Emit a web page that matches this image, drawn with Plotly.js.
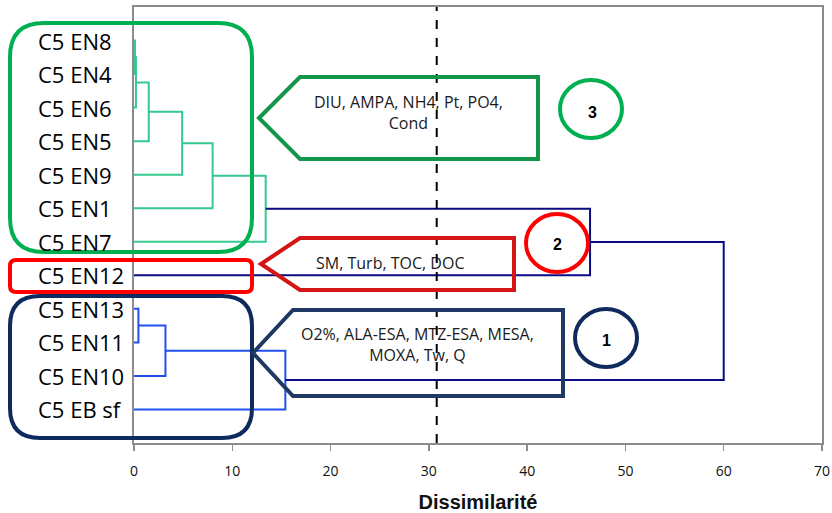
<!DOCTYPE html>
<html>
<head>
<meta charset="utf-8">
<script src="https://cdn.plot.ly/plotly-3.0.1.min.js"></script>
<style>html,body{margin:0;padding:0;background:#fff;}#chart{width:832px;height:513px;}</style>
</head>
<body>
<div id="chart"></div>
<script>
// ---- Data ----
const leaves = ['C5 EN8','C5 EN4','C5 EN6','C5 EN5','C5 EN9','C5 EN1','C5 EN7','C5 EN12','C5 EN13','C5 EN11','C5 EN10','C5 EB sf'];
const mergeLeft   = ['C5 EN8','n0','n1','n2','n3','n4','n5','C5 EN13','n7','n8','n6'];
const mergeRight  = ['C5 EN4','C5 EN6','C5 EN5','C5 EN9','C5 EN1','C5 EN7','C5 EN12','C5 EN11','C5 EN10','C5 EB sf','n9'];
const mergeHeight = [0.1, 0.2, 1.5, 4.9, 8.0, 13.4, 46.4, 0.45, 3.2, 15.4, 60.0];
const mergeGroup  = ['g3','g3','g3','g3','g3','g3','top','g1','g1','g1','top'];
const xTicks = [0,10,20,30,40,50,60,70];
const truncation = 30.8;
const groupText = ['DIU, AMPA, NH4, Pt, PO4,<br>Cond', 'SM, Turb, TOC, DOC', 'O2%, ALA-ESA, MTZ-ESA, MESA,<br>MOXA, Tw, Q'];
const groupNumbers = ['3','2','1'];

// ---- Styles ----
const groupColor = {g3:'#35c98f', g1:'#1f50ee', top:'#0a0a82'};

// ---- Build dendrogram ----
const pos = {};
leaves.forEach((l,i)=>{ pos[l] = {x:0, y:i+1}; });
const traces = [];
mergeHeight.forEach((h,k)=>{
  const a = pos[mergeLeft[k]], b = pos[mergeRight[k]];
  traces.push({
    type:'scatter', mode:'lines',
    x:[a.x, h, h, b.x], y:[a.y, a.y, b.y, b.y],
    line:{color:groupColor[mergeGroup[k]], width:2},
    hoverinfo:'skip', showlegend:false
  });
  pos['n'+k] = {x:h, y:(a.y+b.y)/2};
});

// ---- Decorations (pixel -> paper) ----
const L=134, R=822, T=7, B=443;
const px = v => (v-L)/(R-L);
const py = v => (B-v)/(B-T);
function pt(x,y){ return px(x)+','+py(y); }
function roundRect(x0,y0,x1,y1,r){
  return 'M'+pt(x0+r,y0)+' L'+pt(x1-r,y0)+' Q'+pt(x1,y0)+' '+pt(x1,y0+r)+
         ' L'+pt(x1,y1-r)+' Q'+pt(x1,y1)+' '+pt(x1-r,y1)+
         ' L'+pt(x0+r,y1)+' Q'+pt(x0,y1)+' '+pt(x0,y1-r)+
         ' L'+pt(x0,y0+r)+' Q'+pt(x0,y0)+' '+pt(x0+r,y0)+' Z';
}
function arrowBox(tipX,x0,x1,y0,y1){
  return 'M'+pt(tipX,(y0+y1)/2)+' L'+pt(x0,y0)+' L'+pt(x1,y0)+' L'+pt(x1,y1)+' L'+pt(x0,y1)+' Z';
}
function circ(cx,cy,rx,ry,color){
  return {type:'circle', xref:'paper', yref:'paper', x0:px(cx-rx), x1:px(cx+rx), y0:py(cy+ry), y1:py(cy-ry), line:{color:color,width:4}};
}
const shapes = [
  {type:'line', xref:'x', yref:'paper', x0:truncation, x1:truncation, y0:0, y1:1, line:{color:'#000', width:2, dash:'dash'}},
  {type:'path', xref:'paper', yref:'paper', path:roundRect(10,23,252,252,34), line:{color:'#00b050', width:4}},
  {type:'path', xref:'paper', yref:'paper', path:roundRect(10,260,252,292,6), line:{color:'#ff0000', width:4}},
  {type:'path', xref:'paper', yref:'paper', path:roundRect(10,296,252,438,30), line:{color:'#0f2a5c', width:4}},
  {type:'path', xref:'paper', yref:'paper', path:arrowBox(259,300,538,77,159), line:{color:'#13954a', width:4}},
  {type:'path', xref:'paper', yref:'paper', path:arrowBox(261,300,514,238,290), line:{color:'#d41515', width:4}},
  {type:'path', xref:'paper', yref:'paper', path:arrowBox(253,293,563,310,396), line:{color:'#1f3864', width:4}},
  circ(591,109,31,29,'#00b050'),
  circ(557,243,31,29,'#ff0000'),
  circ(606,338,31,29,'#0f2a5c')
];
const annFont = {family:'Open Sans, Noto Sans, sans-serif', size:16, color:'#1a1a1a'};
const numFont = {family:'Liberation Sans, Arial, sans-serif', size:16, color:'#000', weight:'bold'};
const labelFont = {family:'Open Sans, Noto Sans, sans-serif', size:22, color:'#000'};
const annotations = [
  {xref:'paper', yref:'paper', x:px(408), y:py(112), text:groupText[0], showarrow:false, font:annFont, align:'center', xanchor:'center', yanchor:'middle'},
  {xref:'paper', yref:'paper', x:px(390), y:py(263), text:groupText[1], showarrow:false, font:annFont, align:'center', xanchor:'center', yanchor:'middle'},
  {xref:'paper', yref:'paper', x:px(417), y:py(344), text:groupText[2], showarrow:false, font:annFont, align:'center', xanchor:'center', yanchor:'middle'},
  {xref:'paper', yref:'paper', x:px(592), y:py(112), text:'<b>'+groupNumbers[0]+'</b>', showarrow:false, font:numFont, xanchor:'center', yanchor:'middle'},
  {xref:'paper', yref:'paper', x:px(557), y:py(245), text:'<b>'+groupNumbers[1]+'</b>', showarrow:false, font:numFont, xanchor:'center', yanchor:'middle'},
  {xref:'paper', yref:'paper', x:px(606), y:py(340), text:'<b>'+groupNumbers[2]+'</b>', showarrow:false, font:numFont, xanchor:'center', yanchor:'middle'}
];
// leaf labels, left-aligned, placed via the y axis
leaves.forEach((l,i)=>{
  annotations.push({xref:'paper', yref:'y', x:px(36), y:i+1, text:l, showarrow:false, font:labelFont, xanchor:'left', yanchor:'middle'});
});

const layout = {
  width:832, height:513,
  margin:{l:134, r:10, t:7, b:70},
  paper_bgcolor:'#fff', plot_bgcolor:'#fff',
  showlegend:false,
  xaxis:{
    range:[0,70], tickvals:xTicks, ticktext:xTicks.map(String),
    showgrid:false, zeroline:false,
    showline:true, linecolor:'#8c8c8c', linewidth:2, mirror:true,
    ticks:'outside', ticklen:6, tickwidth:1.5, tickcolor:'#8c8c8c',
    ticklabelstandoff:8,
    tickfont:{family:'Open Sans, Noto Sans, sans-serif', size:14, color:'#111'},
    title:{text:'Dissimilarité', standoff:16, font:{family:'Liberation Sans, Arial, sans-serif', size:20, color:'#111', weight:'bold'}}
  },
  yaxis:{
    range:[13,0], tickvals:leaves.map((l,i)=>i+1),
    showticklabels:false,
    showgrid:false, zeroline:false,
    showline:true, linecolor:'#8c8c8c', linewidth:2, mirror:true,
    ticks:''
  },
  shapes:shapes,
  annotations:annotations
};
Plotly.newPlot('chart', traces, layout, {displayModeBar:false, staticPlot:true});
</script>
</body>
</html>
